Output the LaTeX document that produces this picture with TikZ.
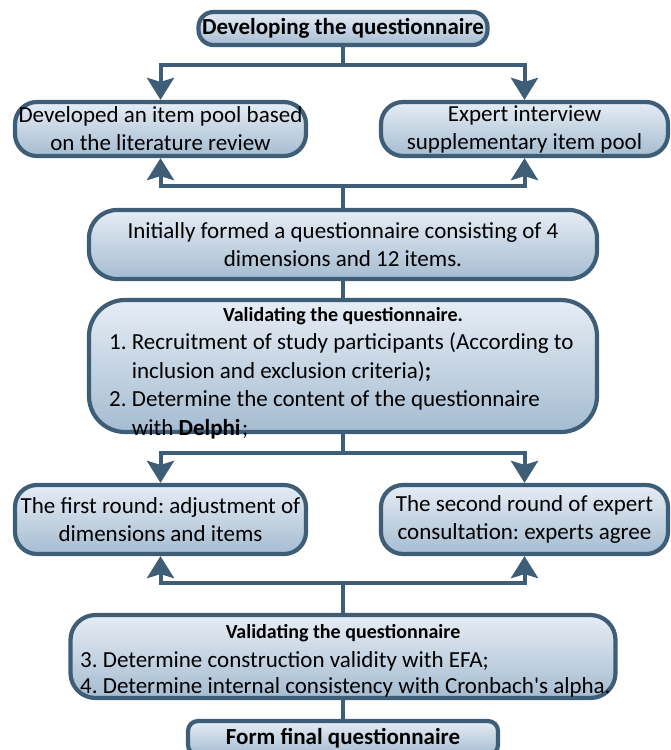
\documentclass[tikz,border=0pt]{standalone}
\usepackage{fontspec}
\setmainfont{Carlito}
\usetikzlibrary{arrows.meta}
\definecolor{bordc}{HTML}{3E5D76}
\definecolor{topc}{HTML}{E6EDF5}
\definecolor{botc}{HTML}{A5BCD1}
\frenchspacing
\begin{document}
\begin{tikzpicture}[x=1pt,y=-1pt,
  box/.style={draw=bordc, line width=4.2pt, top color=topc, bottom color=botc,
    align=center, inner sep=0pt, font=\fontsize{23}{28}\selectfont},
  conn/.style={draw=bordc, line width=4pt},
  arr/.style={conn, -{Stealth[length=22pt,width=27pt,inset=4pt]}},
  txt/.style={inner sep=0pt, font=\fontsize{23}{28}\selectfont},
  hdr/.style={inner sep=0pt, font=\fontsize{20}{24}\selectfont\bfseries}]
\useasboundingbox (0,0) rectangle (671,750);

% boxes
\node[box, rounded corners=15pt, minimum width=289pt, minimum height=33pt,
  font=\fontsize{23}{28}\selectfont\bfseries] (top) at (343,28.5) {Developing the questionnaire};
\node[box, rounded corners=22pt, minimum width=291pt, minimum height=54pt] (L1) at (160.5,129)
  {Developed an item pool based\\on the literature review};
\node[box, rounded corners=22pt, minimum width=287pt, minimum height=54pt] (R1) at (524.5,129)
  {Expert interview\\supplementary item pool};
\node[box, rounded corners=28pt, minimum width=508pt, minimum height=69pt] (init) at (343,244.5)
  {Initially formed a questionnaire consisting of 4\\dimensions and 12 items.};
\node[box, rounded corners=36pt, minimum width=508pt, minimum height=132pt] (val1) at (343,366) {};
\node[box, rounded corners=22pt, minimum width=291pt, minimum height=69pt] (L2) at (160.5,519.5)
  {The first round: adjustment of\\dimensions and items};
\node[box, rounded corners=22pt, minimum width=287pt, minimum height=69pt] (R2) at (524.5,519.5)
  {The second round of expert\\consultation: experts agree};
\node[box, rounded corners=25pt, minimum width=545pt, minimum height=83pt] (val2) at (343,656.5) {};
\node[box, rounded corners=10pt, minimum width=310pt, minimum height=34pt,
  font=\fontsize{23}{28}\selectfont\bfseries] (form) at (343,738) {Form final questionnaire};

% texts of the two validating boxes
\node[hdr, anchor=base] (v1h) at (343,321.5) {Validating the questionnaire.};
\node[txt, anchor=base west] (v1a) at (109,349.5) {1. Recruitment of study participants (According to};
\node[txt, anchor=base west] (v1b) at (109,378) {\hphantom{1.}\ inclusion and exclusion criteria)\textbf{;}};
\node[txt, anchor=base west] (v1c) at (109,406.5) {2. Determine the content of the questionnaire};
\node[txt, anchor=base west] (v1d) at (109,435) {\hphantom{2.}\ with \textbf{Delphi}\kern1.5pt;};

\node[hdr, anchor=base] (v2h) at (343,638.5) {Validating the questionnaire};
\node[txt, anchor=base west] (v2a) at (80,667) {3. Determine construction validity with EFA;};
\node[txt, anchor=base west] (v2b) at (80,693.5) {4. Determine internal consistency with Cronbach\textquotesingle s alpha.};

% junctions
\path (top.south) ++(0,17.5) coordinate (j1);
\path (init.north) ++(0,-22) coordinate (j2);
\path (val1.south) ++(0,19) coordinate (j3);
\path (val2.north) ++(0,-30) coordinate (j4);

% connectors
\draw[conn] (top.south) -- (j1);
\draw[arr] (j1) -| (L1.north);
\draw[arr] (j1) -| (R1.north);
\draw[conn] (j2) -- (init.north);
\draw[arr] (j2) -| (L1.south);
\draw[arr] (j2) -| (R1.south);
\draw[conn] (init.south) -- (val1.north);
\draw[conn] (val1.south) -- (j3);
\draw[arr] (j3) -| (L2.north);
\draw[arr] (j3) -| (R2.north);
\draw[conn] (j4) -- (val2.north);
\draw[arr] (j4) -| (L2.south);
\draw[arr] (j4) -| (R2.south);
\draw[conn] (val2.south) -- (form.north);
\end{tikzpicture}
\end{document}
